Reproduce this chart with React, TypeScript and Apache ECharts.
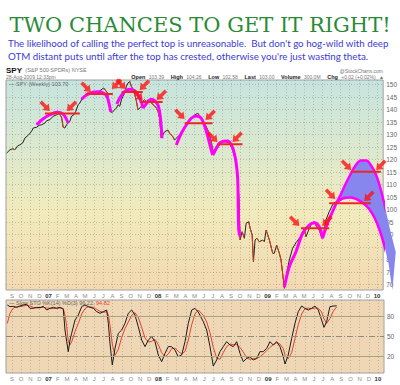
import React, { useEffect, useRef } from "react";
import * as echarts from "echarts";

// x unit: months, 0 = Sep 2006
const X_MIN = -0.656;
const X_MAX = 40.66;
const monthLetters = ["J", "F", "M", "A", "M", "J", "J", "A", "S", "O", "N", "D"];
const monthTicks = [0, 1, 2, 3, 4, 5, 6, 7, 8, 9, 10, 11, 12, 13, 14, 15, 16, 17, 18, 19, 20, 21, 22, 23, 24, 25, 26, 27, 28, 29, 30, 31, 32, 33, 34, 35, 36, 37, 38, 39, 40];
const priceTicks = [70, 75, 80, 85, 90, 95, 100, 105, 110, 115, 120, 125, 130, 135, 140, 145, 150];
const stochTicks = [20, 50, 80];

const priceX = [-0.58, -0.22, 0.08, 0.33, 0.58, 0.87, 1.17, 1.42, 1.78, 2.15, 2.33, 2.7, 2.98, 3.25, 3.61, 3.79, 4.15, 4.51, 4.89, 5.17, 5.43, 5.61, 5.79, 5.98, 6.34, 6.52, 6.78, 6.99, 7.25, 7.43, 7.73, 7.98, 8.23, 8.52, 8.89, 9.26, 9.62, 10.05, 10.46, 10.71, 10.9, 11.07, 11.26, 11.44, 11.62, 11.8, 11.99, 12.16, 12.35, 12.54, 12.71, 12.9, 13.08, 13.37, 13.63, 13.8, 13.99, 14.17, 14.35, 14.54, 14.72, 14.9, 15.27, 15.63, 15.81, 15.99, 16.17, 16.36, 16.72, 17.08, 17.27, 17.63, 17.81, 18.17, 18.55, 18.91, 19.27, 19.64, 20.0, 20.36, 20.73, 21.09, 21.45, 21.83, 22.0, 22.19, 22.37, 22.73, 23.09, 23.46, 23.83, 24.19, 24.56, 24.73, 24.86, 24.99, 25.21, 25.46, 25.65, 25.93, 26.09, 26.31, 26.45, 26.63, 26.81, 27.1, 27.46, 27.65, 27.84, 28.2, 28.56, 28.74, 28.99, 29.29, 29.47, 29.65, 29.84, 30.09, 30.38, 30.74, 31.11, 31.48, 31.84, 32.02, 32.21, 32.57, 32.86, 33.11, 33.37, 33.66, 33.96, 34.21, 34.39, 34.75, 35.11, 35.41];
const priceClose = [122.6, 123.9, 124.3, 123.9, 125.3, 125.9, 126.6, 128.6, 129.7, 131.3, 132.6, 132.9, 133.7, 133.9, 134.6, 135.5, 135.9, 137.3, 137.9, 138.4, 136.9, 132.9, 132.6, 133.9, 135.3, 137.3, 137.9, 139.3, 141.9, 142.6, 144.6, 145.3, 146.6, 146.2, 147.3, 146.6, 147.5, 148.6, 146.6, 140.6, 138.6, 139.3, 139.9, 140.6, 141.9, 141.3, 143.9, 145.3, 146.6, 149.3, 150.6, 151.2, 149.3, 147.3, 143.3, 139.9, 140.6, 141.3, 143.3, 143.9, 143.3, 143.9, 142.6, 141.4, 140.6, 139.3, 136.6, 128.6, 131.1, 131.8, 130.5, 129.1, 127.8, 129.1, 130.5, 133.1, 134.5, 136.5, 137.8, 138.5, 136.5, 134.5, 131.8, 127.1, 123.8, 122.5, 123.8, 125.8, 127.1, 127.1, 126.5, 123.8, 118.5, 113.5, 103.8, 87.8, 91.1, 88.5, 94.5, 95.1, 92.5, 89.8, 79.1, 87.8, 88.5, 87.1, 87.8, 87.1, 91.8, 87.8, 82.5, 82.5, 85.8, 82.5, 79.8, 74.5, 68.5, 74.5, 79.8, 84.5, 86.7, 88.5, 90.5, 92.5, 89.1, 92.5, 94.5, 95.1, 93.1, 91.8, 88.5, 91.8, 95.8, 99.1, 101.8, 103.1];

const stochX = [-0.51, -0.22, 0.14, 0.51, 0.87, 1.23, 1.61, 1.97, 2.33, 2.7, 3.06, 3.42, 3.79, 4.15, 4.51, 4.89, 5.25, 5.61, 5.79, 5.98, 6.15, 6.34, 6.52, 6.89, 7.25, 7.62, 7.98, 8.34, 8.89, 9.26, 9.62, 9.98, 10.35, 10.53, 10.71, 10.96, 11.26, 11.62, 11.99, 12.35, 12.71, 13.08, 13.44, 13.8, 14.17, 14.54, 14.9, 15.27, 15.63, 15.99, 16.36, 16.72, 17.08, 17.45, 17.81, 18.17, 18.55, 18.91, 19.27, 19.64, 20.0, 20.36, 20.91, 21.28, 21.64, 22.0, 22.37, 22.73, 23.09, 23.46, 23.83, 24.19, 24.56, 24.92, 25.28, 25.65, 26.01, 26.37, 26.74, 27.1, 27.46, 27.84, 28.2, 28.56, 28.93, 29.29, 29.65, 29.84, 30.19, 30.57, 30.93, 31.29, 31.66, 32.02, 32.38, 32.75, 33.11, 33.48, 33.84, 34.1, 34.39, 34.75, 35.11, 35.49];
const stochK = [97.5, 95, 95.5, 94, 96, 97.5, 98.5, 92.5, 92.5, 94, 93.5, 95.5, 90, 92.5, 94, 92.5, 94, 91, 60, 42.5, 27.5, 45, 55, 75, 82.5, 95, 97.5, 95, 92.5, 87.5, 85, 87.5, 90, 70, 40, 7.5, 32.5, 55, 60, 70, 85, 90, 82.5, 65, 45, 35, 45, 50, 42.5, 22.5, 12.5, 25, 35, 35, 30, 20, 22.5, 42.5, 70, 90, 92.5, 87, 72.5, 60, 35, 6, 15, 27.5, 35, 42.5, 37.5, 35, 42.5, 25, 12.5, 17.5, 20, 15, 17.5, 27.5, 27.5, 32.5, 42.5, 37.5, 42.5, 35, 20, 9, 22.5, 47.5, 70, 87.5, 96, 92.5, 90, 92.5, 96, 90, 75, 64, 72.5, 95, 96, 96.2];
const stochD = [70, 85, 93, 95, 95, 96, 97, 96, 94, 93, 93.5, 94, 93, 92.5, 92, 93, 93, 92.5, 82, 65, 43, 38, 42, 58, 70, 84, 92, 95, 94, 91, 88, 86.5, 87.5, 83, 67, 39, 22, 31, 49, 62, 72, 82, 86, 79, 64, 48, 42, 43, 46, 38, 26, 20, 24, 32, 33, 28, 24, 28, 45, 68, 84, 90, 82, 72, 56, 34, 18, 16, 26, 35, 39, 38, 38, 34, 27, 18, 16, 17, 17, 20, 24, 29, 34, 38, 41, 39, 32, 22, 17, 26, 47, 68, 84, 92, 93, 92, 93, 92.5, 87, 77, 70, 77, 88, 94.8];

// hand-drawn annotation arcs (magenta)
const arcTops = [
  [[2.7, 133.9], [3.42, 136.3], [4.15, 137.9], [4.89, 138.9], [5.43, 138.6], [5.79, 137.3], [6.15, 134.6]],
  [[7.62, 144.1], [8.16, 145.8], [8.89, 146.9], [9.43, 147.1], [9.98, 146.7], [10.42, 145.1], [10.71, 141.1], [10.82, 139.1]],
  [[11.48, 142.2], [12.16, 146.5], [12.9, 148.1], [13.44, 147.5], [13.8, 145.8], [14.17, 143.1], [14.35, 140.5]],
  [[14.35, 140.5], [14.9, 143.1], [15.27, 144.1], [15.63, 143.5], [15.99, 141.8], [16.25, 137.1], [16.43, 128.5]],
  [[18.0, 125.8], [18.55, 130.5], [19.09, 133.8], [19.64, 136.5], [20.19, 137.4], [20.73, 136.5], [21.28, 131.4], [21.83, 123.8], [22.0, 121.8]],
  [[22.0, 121.8], [22.73, 126.5], [23.17, 127.3], [23.64, 127.4], [24.19, 124.5], [24.56, 118.5], [24.73, 111.8], [24.84, 91.8], [25.0, 89.1]],
  [[29.84, 69], [30.38, 77.1], [31.11, 83.1], [31.84, 90.5], [32.57, 93.8], [33.11, 94.7], [33.66, 93.1], [34.02, 88.5]],
  [[34.02, 88.5], [34.57, 94.5], [35.11, 99.1], [35.52, 102.6]],
];
const projLower = [[35.52, 102.6], [36.21, 104.4], [37.13, 104.8], [37.81, 104.0], [38.52, 102.4], [39.13, 100.2], [39.73, 96.6], [40.27, 91.8], [40.77, 85.8], [41.26, 78.2], [41.67, 67.8]];
const projUpper = [[35.52, 102.6], [35.96, 105.6], [36.58, 110.5], [37.1, 114.2], [37.6, 117.4], [38.22, 119.6], [38.8, 119.6], [39.34, 117.6], [39.89, 113.8], [40.38, 108.2], [40.87, 101.0], [41.37, 92.6], [42.04, 83.0]];

// red top lines: [xStart, xEnd, level]
const topLines = [
  [3.61, 7.43, 138.4], [8.09, 11.04, 146.2], [12.02, 14.32, 147.0], [13.99, 16.5, 143.0],
  [18.91, 21.97, 134.5], [22.51, 25.25, 126.1], [31.66, 34.75, 92.5], [34.75, 39.31, 102.5], [37.13, 40.41, 115.1],
];
// arrows: [x tip, y tip, direction]
const arrowTips: [number, number, string][] = [
  [4.15, 139.4, "R"], [6.01, 139.4, "L"], [8.63, 147.0, "R"], [10.93, 148.2, "L"], [12.46, 148.2, "R"], [13.99, 147.8, "L"],
  [14.32, 143.8, "R"], [15.85, 143.8, "L"], [18.91, 136.2, "R"], [21.2, 135.8, "L"], [22.51, 127.0, "R"], [24.15, 127.0, "L"],
  [31.48, 93.4, "R"], [33.99, 93.4, "L"], [35.41, 104.2, "R"], [38.58, 103.4, "L"], [37.16, 115.8, "R"], [39.89, 115.8, "L"],
];

const ARROW = "path://M5,0 L10,6.5 L7,6.5 L7,14 L3,14 L3,6.5 L0,6.5 Z";
const SMALL = '"Liberation Sans", Arial, sans-serif';

const monthLabel = (v: number) => {
  const k = Math.round(v);
  const mi = (8 + k) % 12;
  if (mi === 0) {
    const yr = 2006 + Math.floor((8 + k) / 12);
    return `{y|${String(yr).slice(2)}}`;
  }
  return monthLetters[mi];
};

function xAxisFor(gridIndex: number) {
  return {
    gridIndex,
    type: "value",
    min: X_MIN,
    max: X_MAX,
    axisLine: { show: false },
    axisTick: { show: false, customValues: monthTicks },
    axisLabel: {
      customValues: monthTicks,
      formatter: monthLabel,
      fontSize: 6,
      fontFamily: SMALL,
      color: "#8a8a8a",
      margin: 3,
      rich: { y: { fontSize: 6, fontWeight: "bold", color: "#333", fontFamily: SMALL } },
    },
    splitLine: { show: true, lineStyle: { color: "rgba(110,110,110,0.35)", type: [1, 2], width: 1 } },
  };
}

export default function App() {
  const ref = useRef<HTMLDivElement>(null);
  useEffect(() => {
    document.body.style.margin = "0";
    const chart = echarts.init(ref.current!, null, { renderer: "svg" });

    // runs of falling weeks, drawn in red over the black close line
    const redRuns: number[][][] = [];
    let run: number[][] | null = null;
    for (let i = 0; i < priceX.length - 1; i++) {
      if (priceClose[i + 1] < priceClose[i]) {
        if (!run) {
          run = [[priceX[i], priceClose[i]]];
          redRuns.push(run);
        }
        run.push([priceX[i + 1], priceClose[i + 1]]);
      } else {
        run = null;
      }
    }

    const series: any[] = [];
    series.push({
      type: "custom",
      xAxisIndex: 0,
      yAxisIndex: 0,
      clip: false,
      silent: true,
      data: [[38, 110]],
      renderItem: (params: any, api: any) => {
        const pts = projUpper.map((p) => api.coord(p)).concat(projLower.slice().reverse().map((p) => api.coord(p)));
        return { type: "polygon", shape: { points: pts }, style: { fill: "#8686ee", stroke: "none" } };
      },
      z: 2,
    });
    series.push({
      name: "price",
      type: "line",
      xAxisIndex: 0,
      yAxisIndex: 0,
      data: priceX.map((x, i) => [x, priceClose[i]]),
      showSymbol: false,
      lineStyle: { width: 1, color: "#222" },
      z: 3,
    });
    redRuns.forEach((r) => {
      series.push({
        type: "line",
        xAxisIndex: 0,
        yAxisIndex: 0,
        data: r,
        showSymbol: false,
        lineStyle: { width: 1, color: "#d2401e" },
        z: 3,
      });
    });
    arcTops.forEach((arc) => {
      series.push({
        type: "line",
        xAxisIndex: 0,
        yAxisIndex: 0,
        data: arc,
        smooth: 0.35,
        showSymbol: false,
        clip: false,
        lineStyle: { width: 3, color: "#ff00ff" },
        z: 4,
      });
    });
    [projLower, projUpper].forEach((arc) => {
      series.push({
        type: "line",
        xAxisIndex: 0,
        yAxisIndex: 0,
        data: arc,
        smooth: 0.35,
        showSymbol: false,
        clip: false,
        lineStyle: { width: 2.5, color: "#ff00ff" },
        z: 4,
      });
    });
    topLines.forEach((t) => {
      series.push({
        type: "line",
        xAxisIndex: 0,
        yAxisIndex: 0,
        data: [[t[0], t[2]], [t[1], t[2]]],
        showSymbol: false,
        lineStyle: { width: 2, color: "#f02424" },
        z: 5,
      });
    });
    series.push({
      type: "scatter",
      xAxisIndex: 0,
      yAxisIndex: 0,
      symbol: ARROW,
      symbolSize: [9, 13],
      clip: false,
      itemStyle: { color: "#ff1212" },
      data: arrowTips.map((a) => ({
        value: [a[0], a[1]],
        symbolRotate: a[2] === "R" ? -135 : 135,
        symbolOffset: a[2] === "R" ? [-4.6, -4.6] : [4.6, -4.6],
      })),
      z: 6,
    });
    series.push({
      type: "line",
      xAxisIndex: 1,
      yAxisIndex: 1,
      data: stochX.map((x, i) => [x, stochD[i]]),
      showSymbol: false,
      lineStyle: { width: 1, color: "#e8412a" },
      markLine: {
        silent: true,
        symbol: "none",
        label: { show: false },
        data: [
          { yAxis: 80, lineStyle: { color: "#a9a57a", width: 1.2, type: "solid" } },
          { yAxis: 20, lineStyle: { color: "#a9a57a", width: 1.2, type: "solid" } },
          { yAxis: 50, lineStyle: { color: "#8f8a78", width: 1, type: [6, 2, 1, 2] } },
        ],
      },
      z: 3,
    });
    series.push({
      type: "line",
      xAxisIndex: 1,
      yAxisIndex: 1,
      data: stochX.map((x, i) => [x, stochK[i]]),
      showSymbol: false,
      lineStyle: { width: 1, color: "#1a1a1a" },
      z: 4,
    });

    const priceBg = new echarts.graphic.LinearGradient(0, 0, 0, 1, [
      { offset: 0, color: "#c6e4de" },
      { offset: 0.35, color: "#dde9cd" },
      { offset: 0.62, color: "#f1ebbc" },
      { offset: 1, color: "#f3d9b1" },
    ]);

    const option: any = {
      animation: false,
      backgroundColor: "#ffffff",
      grid: [
        { left: 6, right: 16, top: 80, height: 210, show: true, backgroundColor: priceBg, borderColor: "#a0a0a0", borderWidth: 1 },
        { left: 6, right: 16, top: 300, height: 73, show: true, backgroundColor: "#efd7b6", borderColor: "#a0a0a0", borderWidth: 1 },
      ],
      xAxis: [xAxisFor(0), xAxisFor(1)],
      yAxis: [
        {
          gridIndex: 0,
          type: "value",
          position: "right",
          min: 67.8,
          max: 151.8,
          axisLine: { show: false },
          axisTick: { show: false, customValues: priceTicks },
          axisLabel: { customValues: priceTicks, fontSize: 6.5, fontFamily: SMALL, color: "#666", margin: 3 },
          splitLine: { show: true, lineStyle: { color: "rgba(110,110,110,0.35)", type: [1, 2], width: 1 } },
        },
        {
          gridIndex: 1,
          type: "value",
          position: "right",
          min: -4.5,
          max: 105,
          axisLine: { show: false },
          axisTick: { show: false, customValues: stochTicks },
          axisLabel: { customValues: stochTicks, fontSize: 6.5, fontFamily: SMALL, color: "#666", margin: 3 },
          splitLine: { show: false },
        },
      ],
      series,
      graphic: [
        {
          type: "text",
          x: 200,
          y: 25,
          style: { text: "TWO CHANCES TO GET IT RIGHT!", font: '21px "DejaVu Serif"', fill: "#2b8a36", align: "center", verticalAlign: "middle" },
        },
        {
          type: "text",
          x: 8,
          y: 43,
          style: { text: "The likelihood of calling the perfect top is unreasonable.  But don't go hog-wild with deep", font: '9.75px Lato', fill: "#3b3bd6", align: "left", verticalAlign: "middle" },
        },
        {
          type: "text",
          x: 8,
          y: 56,
          style: { text: "OTM distant puts until after the top has crested, otherwise you're just wasting theta.", font: '9.75px Lato', fill: "#3b3bd6", align: "left", verticalAlign: "middle" },
        },
        {
          type: "text",
          x: 6,
          y: 70,
          style: {
            text: "{b|SPY} {g|(S&P 500 SPDRs) NYSE}",
            verticalAlign: "middle",
            rich: {
              b: { font: `bold 8px ${SMALL}`, fill: "#111" },
              g: { font: `5.5px ${SMALL}`, fill: "#777" },
            },
          },
        },
        {
          type: "text",
          x: 6,
          y: 76.5,
          style: { text: "28-Aug-2009 12:33pm", font: `5px ${SMALL}`, fill: "#777", verticalAlign: "middle" },
        },
        {
          type: "text",
          x: 383,
          y: 70.5,
          style: { text: "@StockCharts.com", font: `5px ${SMALL}`, fill: "#777", align: "right", verticalAlign: "middle" },
        },
        {
          type: "text",
          x: 384,
          y: 76.5,
          style: {
            text: "{b|Open} {g|103.39}  {b|High} {g|104.26}  {b|Low} {g|102.58}  {b|Last} {g|103.00}  {b|Volume} {g|300.0M}  {b|Chg} {g|+0.02 (+0.02%)} {g|▲}",
            align: "right",
            verticalAlign: "middle",
            rich: {
              b: { font: `bold 5.5px ${SMALL}`, fill: "#222" },
              g: { font: `5px ${SMALL}`, fill: "#777" },
            },
          },
        },
        {
          type: "text",
          x: 9,
          y: 84,
          style: { text: "— SPY (Weekly) 103.70", font: `5.5px ${SMALL}`, fill: "#666", verticalAlign: "middle" },
        },
        {
          type: "text",
          x: 9,
          y: 303,
          style: {
            text: "— Slow STO %K(14) %D(3) 96.22, {r|94.82}",
            font: `5.5px ${SMALL}`,
            fill: "#666",
            verticalAlign: "middle",
            rich: { r: { font: `5.5px ${SMALL}`, fill: "#e8412a" } },
          },
        },
      ],
    };
    chart.setOption(option);
    return () => chart.dispose();
  }, []);
  return <div ref={ref} style={{ width: 400, height: 385 }} />;
}
